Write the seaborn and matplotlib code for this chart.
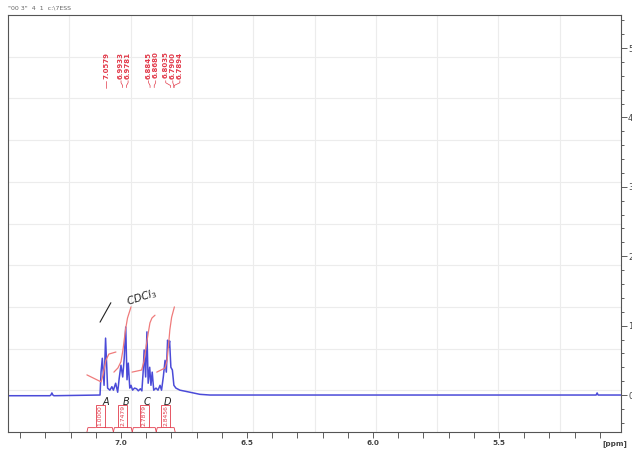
import pandas as pd
import matplotlib.pyplot as plt
import seaborn as sns
from matplotlib.patches import Rectangle
from matplotlib.ticker import MultipleLocator, FixedLocator

# 1H NMR spectrum (aromatic region)
spec_ppm = [7.448, 7.282, 7.278, 7.274, 7.270, 7.266, 7.083, 7.079, 7.074, 7.067,
            7.061, 7.053, 7.044, 7.036, 7.030, 7.021, 7.013, 7.007, 7.000, 6.993,
            6.987, 6.981, 6.976, 6.971, 6.965, 6.960, 6.954, 6.946, 6.938, 6.931,
            6.923, 6.917, 6.912, 6.908, 6.902, 6.897, 6.892, 6.886, 6.881, 6.876,
            6.870, 6.861, 6.853, 6.845, 6.839, 6.832, 6.825, 6.820, 6.815, 6.811,
            6.807, 6.802, 6.796, 6.790, 6.782, 6.766, 6.726, 6.687, 6.647, 5.123,
            5.115, 5.111, 5.107, 5.103, 5.016]
spec_int = [-0.01, -0.01, 0.0, 0.03, 0.0, -0.01, 0.0, 0.33, 0.53, 0.14,
            0.82, 0.10, 0.07, 0.12, 0.07, 0.17, 0.04, 0.24, 0.43, 0.26,
            0.53, 0.98, 0.22, 0.46, 0.10, 0.14, 0.07, 0.10, 0.09, 0.06,
            0.09, 0.06, 0.33, 0.65, 0.26, 0.91, 0.17, 0.40, 0.14, 0.33,
            0.07, 0.10, 0.07, 0.14, 0.07, 0.26, 0.50, 0.33, 0.79, 0.69,
            0.78, 0.40, 0.36, 0.14, 0.10, 0.07, 0.04, 0.01, 0.0, 0.0,
            0.0, 0.03, 0.0, 0.0, 0.0]

# peak picking labels
peak_ppm = [7.0579, 6.9933, 6.9781, 6.8845, 6.8680, 6.8035, 6.7900, 6.7894]

# integral regions, values and the drawn integral curves
region_names = ["A", "B", "C", "D"]
region_start = [7.135, 7.030, 6.955, 6.860]
region_end = [7.030, 6.955, 6.860, 6.785]
integral_values = [1.0000, 2.7479, 2.7879, 2.8456]
integ_ppm = [
    [7.135, 7.079, 7.071, 7.060, 7.048, 7.020],
    [7.028, 7.012, 7.000, 6.992, 6.982, 6.974, 6.960],
    [6.956, 6.918, 6.909, 6.898, 6.891, 6.885, 6.877, 6.865],
    [6.858, 6.825, 6.817, 6.812, 6.806, 6.799, 6.788],
]
integ_int = [
    [0.29, 0.19, 0.29, 0.50, 0.59, 0.62],
    [0.33, 0.39, 0.48, 0.65, 0.94, 1.11, 1.27],
    [0.33, 0.36, 0.48, 0.75, 0.91, 1.04, 1.11, 1.15],
    [0.33, 0.39, 0.50, 0.69, 0.94, 1.12, 1.27],
]

sns.set_style("white")
plt.rcParams['font.family'] = ['DejaVu Sans']

blue = '#4b4bd8'
red = '#e23a4a'
salmon = '#ef7b7b'

fig = plt.figure(figsize=(6.32, 4.51), dpi=100)
ax = fig.add_axes([0.0127, 0.0421, 0.970, 0.9246])
xlim = (7.448, 5.016)
ylim = (-0.533, 5.476)
ax.set_xlim(*xlim)
ax.set_ylim(*ylim)

# faint grid: 10 equal divisions of the box
for k in range(1, 10):
    ax.axvline(xlim[0] + k * (xlim[1] - xlim[0]) / 10, color='#ececec', lw=0.8, zorder=0)
    ax.axhline(ylim[0] + k * (ylim[1] - ylim[0]) / 10, color='#ececec', lw=0.8, zorder=0)

# spectrum
spec = pd.DataFrame({'ppm': spec_ppm, 'intensity': spec_int})
sns.lineplot(data=spec, x='ppm', y='intensity', sort=False, estimator=None,
             color=blue, lw=1.1, ax=ax)

# integral curves
for xs, ys in zip(integ_ppm, integ_int):
    sns.lineplot(x=xs, y=ys, sort=False, estimator=None, color=salmon, lw=0.9, ax=ax)

# peak labels, spread so they do not overlap
gap = 0.028
clusters = [[p] for p in sorted(peak_ppm, reverse=True)]
changed = True
while changed:
    changed = False
    pos = []
    for c in clusters:
        centre = sum(c) / len(c)
        pos.append([centre + gap * ((len(c) - 1) / 2 - i) for i in range(len(c))])
    for i in range(len(clusters) - 1):
        if pos[i][-1] - pos[i + 1][0] < gap:
            clusters[i] = clusters[i] + clusters.pop(i + 1)
            changed = True
            break
label_pos = [p for grp in pos for p in grp]
for lx, px in zip(label_pos, sorted(peak_ppm, reverse=True)):
    ax.text(lx, 4.95, f"{px:.4f}", rotation=90, ha='center', va='top',
            fontsize=5, fontweight='bold', color=red)
    ax.plot([lx, lx, px, px], [4.53, 4.50, 4.46, 4.43], color=red, lw=0.5)

# integral brackets with values
hw = 0.018
for s, e, v in zip(region_start, region_end, integral_values):
    c = (s + e) / 2
    ax.add_patch(Rectangle((c - hw, -0.46), 2 * hw, 0.32, fill=False,
                           edgecolor=red, lw=0.6, clip_on=False))
    ax.text(c, -0.30, f"{v:.4f}", rotation=90, ha='center', va='center',
            fontsize=4.3, color=red)
    ax.plot([s, s - 0.004, c + hw], [-0.533, -0.47, -0.47], color=red, lw=0.6, clip_on=False)
    ax.plot([c - hw, e + 0.004, e], [-0.47, -0.47, -0.533], color=red, lw=0.6, clip_on=False)

# handwritten notes: solvent and peak letters
ax.text(6.917, 1.41, "CDCl$_3$", rotation=18, ha='center', va='center',
        fontsize=7.5, color='#222222', fontstyle='italic')
ax.plot([7.083, 7.040], [1.05, 1.33], color='#222222', lw=0.8)
for name, s, e in zip(region_names, region_start, region_end):
    sub = spec[(spec['ppm'] <= s) & (spec['ppm'] >= e)]
    top = sub.loc[sub['intensity'].idxmax(), 'ppm']
    ax.text(top, -0.10, name, ha='center', va='center', fontsize=7,
            color='#222222', fontstyle='italic')

# axes styling
ax.set_xlabel('')
ax.set_ylabel('')
ax.xaxis.set_major_locator(FixedLocator([7.0, 6.5, 6.0, 5.5]))
ax.xaxis.set_minor_locator(MultipleLocator(0.1))
ax.set_xticklabels(['7.0', '6.5', '6.0', '5.5'], fontweight='bold')
ax.tick_params(axis='x', which='both', direction='out', length=4, width=0.6,
               colors='#444444', labelsize=5.2, pad=1.5, bottom=True, top=False)
ax.text(5.04, -0.027, '[ppm]', transform=ax.get_xaxis_transform(), ha='center',
        va='center', fontsize=5.2, fontweight='bold', color='#444444', clip_on=False)

ax.yaxis.tick_right()
ax.yaxis.set_major_locator(MultipleLocator(1))
ax.yaxis.set_minor_locator(MultipleLocator(0.2))
ax.tick_params(axis='y', which='both', direction='out', width=0.6, colors='#444444',
               left=False, right=True, labelleft=False, labelright=True,
               labelsize=6, pad=1)
ax.tick_params(axis='y', which='major', length=4)
ax.tick_params(axis='y', which='minor', length=2)

for side in ['left', 'right', 'top', 'bottom']:
    ax.spines[side].set_visible(True)
    ax.spines[side].set_color('#555555')
    ax.spines[side].set_linewidth(0.8)

fig.text(0.013, 0.982, '"00 3"  4  1  c:\\7ESS', fontsize=4.5, color='#666666',
         ha='left', va='center')

fig.savefig('out.png', dpi=100)
